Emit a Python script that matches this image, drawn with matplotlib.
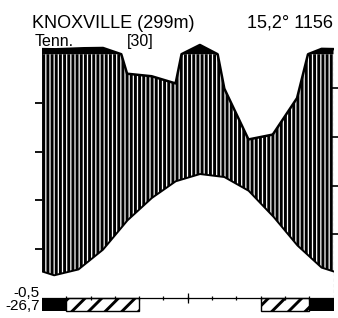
import numpy as np
import matplotlib.pyplot as plt

plt.rcParams['font.family'] = ['Liberation Sans', 'DejaVu Sans']
plt.rcParams['hatch.linewidth'] = 2.1
plt.rcParams['hatch.color'] = 'black'

# monthly means, Knoxville (Tenn.)
months = np.arange(12) + 0.5
temp = [4.6, 5.8, 9.8, 15.8, 20.4, 23.9, 25.4, 24.8, 22.0, 16.8, 10.8, 6.2]
precip = [120, 124, 126, 92, 91, 88, 138, 86, 65, 67, 82, 122]
frost_sure = [(0, 1), (11, 12)]
frost_possible = [(1, 4), (9, 11)]
left_ticks = [10, 20, 30, 40]
right_ticks = [26, 46, 66, 86]


def pscale(p):
    # 10 deg = 20 mm, above 100 mm 10 deg = 200 mm
    p = np.asarray(p, float)
    return np.where(p <= 100, p / 2, 50 + (p - 100) / 20)


x = np.concatenate([[0], months, [12]])
t = np.concatenate([[(temp[0] + temp[-1]) / 2], temp, [(temp[0] + temp[-1]) / 2]])
p = np.concatenate([[(precip[0] + precip[-1]) / 2], precip, [(precip[0] + precip[-1]) / 2]])

xf = np.linspace(0, 12, 1200)
tf = np.interp(xf, x, t)
pf = pscale(np.interp(xf, x, p))

W, H = 338, 318
fig = plt.figure(figsize=(W / 100, H / 100), dpi=100)
ax = fig.add_axes([42 / W, (H - 313) / H, 291.5 / W, 288 / H])
ax.set_xlim(0, 12)
ax.set_ylim(-3.14, 56.0)

# humid period
ax.fill_between(xf, tf, np.minimum(pf, 50), facecolor='white', edgecolor='black',
                hatch='||||', linewidth=0)
# above 100 mm
ax.fill_between(xf, 50, pf, where=pf > 50, color='black', interpolate=True, linewidth=0)
ax.plot(xf, pf, color='black', lw=1.8)
ax.plot(xf, tf, color='black', lw=1.4)
ax.plot([0, 0], [tf[0], pf[0]], color='black', lw=1.2)

# baseline and month marks
ax.plot([0, 12], [0, 0], color='black', lw=0.9)
bounds = np.arange(1, 12)
ax.plot(bounds, np.zeros_like(bounds), ls='none', marker='|', ms=3, mew=0.9, color='black')
ax.plot([6], [0], ls='none', marker='|', ms=7, mew=0.9, color='black')

# frost bars
for a, b in frost_sure:
    ax.bar(a, -2.65, width=b - a, bottom=-0.1, align='edge', color='black', linewidth=0)
for a, b in frost_possible:
    ax.bar(a, -2.65, width=b - a, bottom=-0.1, align='edge', facecolor='white',
           edgecolor='black', hatch='//', linewidth=1.0)

# right dashed axis
ax.plot([12, 12], [0, 50], color='0.35', lw=0.8, ls=(0, (3, 2)))

for s in ax.spines.values():
    s.set_visible(False)
ax.set_xticks([])
ax.set_yticks(left_ticks)
ax.set_yticklabels([])
ax.tick_params(axis='y', length=5, width=1.3, color='black', direction='out')

ax2 = ax.twinx()
ax2.set_ylim(-3.14 * 2, 56.0 * 2)
for s in ax2.spines.values():
    s.set_visible(False)
ax2.set_yticks(right_ticks)
ax2.set_yticklabels([])
ax2.tick_params(axis='y', length=6, width=1.2, color='black', direction='inout')

fig.text(32 / W, 1 - 28 / H, 'KNOXVILLE (299m)', fontsize=13, va='baseline', ha='left')
fig.text(333 / W, 1 - 28 / H, '15,2° 1156', fontsize=13, va='baseline', ha='right')
fig.text(35 / W, 1 - 46 / H, 'Tenn.', fontsize=11.5, va='baseline', ha='left')
fig.text(127 / W, 1 - 46 / H, '[30]', fontsize=11.5, va='baseline', ha='left')
fig.text(40 / W, 1 - 297 / H, '-0,5', fontsize=11, va='baseline', ha='right')
fig.text(40 / W, 1 - 310 / H, '-26,7', fontsize=11, va='baseline', ha='right')

fig.savefig('out.png', dpi=100)
